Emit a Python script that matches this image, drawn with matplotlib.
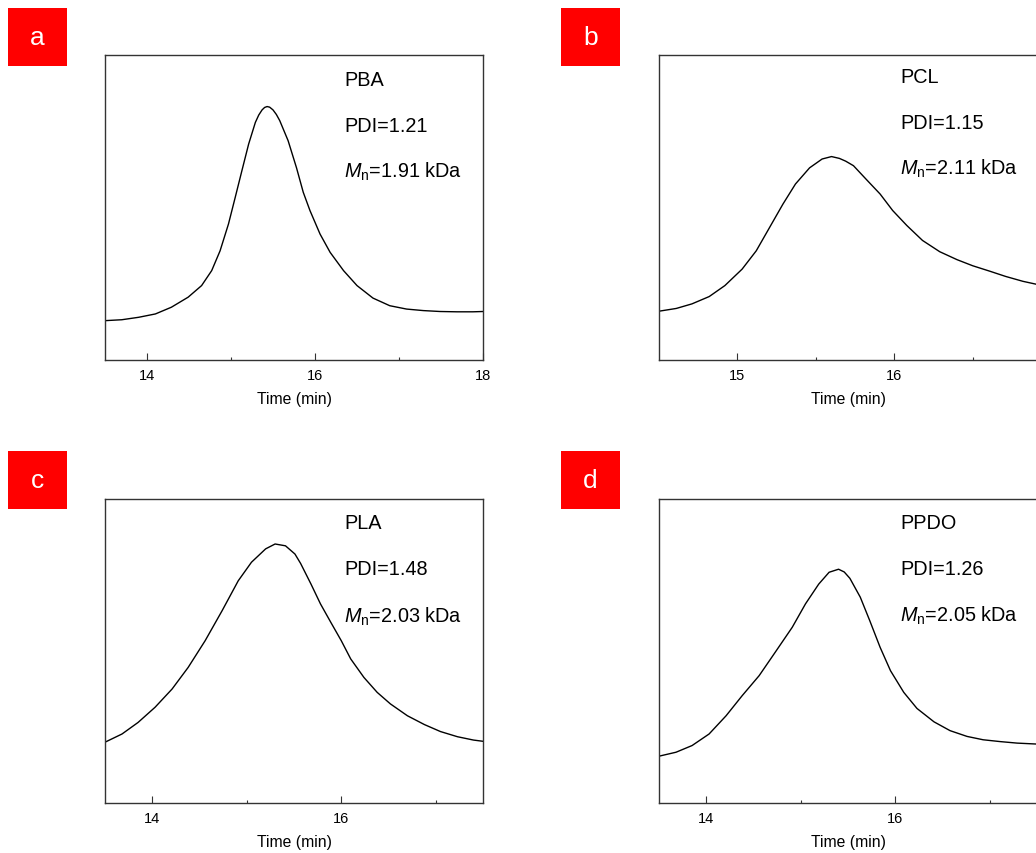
import matplotlib
matplotlib.use("Agg")
import matplotlib.pyplot as plt
from matplotlib.patches import Rectangle

plt.rcParams['font.family'] = ['Liberation Sans', 'DejaVu Sans']
plt.rcParams['mathtext.fontset'] = 'custom'
plt.rcParams['mathtext.rm'] = 'Liberation Sans'
plt.rcParams['mathtext.it'] = 'Liberation Sans:italic'

# ---- data (time in min, normalized detector signal) ----
pba_t = [13.5, 13.70, 13.90, 14.10, 14.29, 14.49, 14.65, 14.77, 14.87, 14.97, 15.05, 15.13, 15.21,
         15.29, 15.33, 15.37, 15.40, 15.43, 15.46, 15.50, 15.54, 15.58, 15.68, 15.78, 15.86, 15.94,
         16.06, 16.18, 16.34, 16.50, 16.69, 16.89, 17.09, 17.29, 17.49, 17.69, 17.88, 18.0]
pba_y = [0.129, 0.132, 0.140, 0.151, 0.173, 0.206, 0.244, 0.293, 0.358, 0.446, 0.533, 0.621, 0.708,
         0.779, 0.803, 0.820, 0.828, 0.831, 0.829, 0.820, 0.805, 0.785, 0.719, 0.630, 0.550, 0.490,
         0.413, 0.353, 0.293, 0.244, 0.203, 0.178, 0.167, 0.162, 0.159, 0.158, 0.158, 0.159]

pcl_t = [14.5, 14.61, 14.71, 14.82, 14.92, 15.03, 15.12, 15.20, 15.29, 15.37, 15.46, 15.54, 15.60,
         15.65, 15.69, 15.74, 15.82, 15.91, 15.99, 16.08, 16.18, 16.29, 16.40, 16.50, 16.61, 16.71,
         16.82, 16.90, 17.0]
pcl_y = [0.160, 0.169, 0.184, 0.208, 0.244, 0.298, 0.358, 0.430, 0.511, 0.577, 0.630, 0.659, 0.667,
         0.661, 0.652, 0.637, 0.593, 0.544, 0.490, 0.441, 0.392, 0.355, 0.329, 0.309, 0.291, 0.274,
         0.258, 0.249, 0.238]

pla_t = [13.5, 13.68, 13.85, 14.03, 14.21, 14.38, 14.56, 14.74, 14.91, 15.05, 15.20, 15.30, 15.41,
         15.51, 15.57, 15.68, 15.78, 15.89, 16.0, 16.10, 16.24, 16.38, 16.52, 16.70, 16.88, 17.05,
         17.23, 17.40, 17.5]
pla_y = [0.200, 0.227, 0.265, 0.315, 0.375, 0.446, 0.534, 0.633, 0.731, 0.792, 0.836, 0.852, 0.846,
         0.819, 0.788, 0.720, 0.655, 0.594, 0.534, 0.474, 0.413, 0.364, 0.326, 0.287, 0.258, 0.235,
         0.218, 0.207, 0.203]

ppdo_t = [13.5, 13.68, 13.85, 14.03, 14.21, 14.38, 14.56, 14.73, 14.91, 15.05, 15.19, 15.30, 15.40,
          15.46, 15.52, 15.63, 15.73, 15.84, 15.95, 16.09, 16.23, 16.41, 16.58, 16.76, 16.93, 17.11,
          17.29, 17.49]
ppdo_y = [0.154, 0.167, 0.189, 0.227, 0.287, 0.353, 0.419, 0.496, 0.578, 0.655, 0.720, 0.759, 0.769,
          0.760, 0.739, 0.677, 0.600, 0.512, 0.435, 0.364, 0.311, 0.267, 0.238, 0.219, 0.208, 0.202,
          0.197, 0.194]

panel_letters = ['a', 'b', 'c', 'd']
polymers = ['PBA', 'PCL', 'PLA', 'PPDO']
pdi_values = ['1.21', '1.15', '1.48', '1.26']
mn_values = ['1.91', '2.11', '2.03', '2.05']
xlims = [(13.5, 18.0), (14.5, 16.91), (13.5, 17.5), (13.5, 17.5)]
major_ticks = [[14, 16, 18], [15, 16], [14, 16], [14, 16]]
minor_ticks = [[15, 17], [15.5, 16.5], [15, 17], [15, 17]]
series = [(pba_t, pba_y), (pcl_t, pcl_y), (pla_t, pla_y), (ppdo_t, ppdo_y)]

W, H = 1036, 854
fig = plt.figure(figsize=(W / 100, H / 100), dpi=100)
fig.patch.set_facecolor('white')

# pixel layout: (left, top, width, height)
ax_px = [(105, 56, 378, 305), (659, 56, 378, 305), (105, 500, 378, 304), (659, 500, 378, 304)]
box_px = [(8, 9), (561, 9), (8, 452), (561, 452)]
text_x = [0.632, 0.638, 0.632, 0.638]
text_y = [(0.921, 0.770, 0.620), (0.928, 0.780, 0.630), (0.924, 0.773, 0.615), (0.924, 0.773, 0.620)]

for i in range(4):
    l, t, w, h = ax_px[i]
    ax = fig.add_axes([l / W, (H - t - h) / H, w / W, h / H])
    xs, ys = series[i]
    ax.plot(xs, ys, color='black', lw=1.0, solid_joinstyle='round')
    ax.set_xlim(*xlims[i])
    ax.set_ylim(0, 1)
    ax.set_yticks([])
    ax.set_xticks(major_ticks[i])
    ax.set_xticks(minor_ticks[i], minor=True)
    ax.tick_params(axis='x', which='major', direction='in', length=5, width=0.8,
                   labelsize=10.5, pad=6, color='#333333')
    ax.tick_params(axis='x', which='minor', direction='in', length=2, width=0.8, color='#333333')
    for sp in ax.spines.values():
        sp.set_color('#333333')
        sp.set_linewidth(1.0)
    ax.set_xlabel('Time (min)', fontsize=11.3, labelpad=6)
    ty = text_y[i]
    fs = 14.3
    ax.text(text_x[i], ty[0], polymers[i], transform=ax.transAxes, fontsize=fs, va='center', ha='left')
    ax.text(text_x[i], ty[1], 'PDI=' + pdi_values[i], transform=ax.transAxes, fontsize=fs,
            va='center', ha='left')
    ax.text(text_x[i], ty[2], r'$\mathit{M}_\mathrm{n}$=' + mn_values[i] + ' kDa',
            transform=ax.transAxes, fontsize=fs, va='center', ha='left')

    bx, by = box_px[i]
    bw, bh = 59, 58
    fig.patches.append(Rectangle((bx / W, (H - by - bh) / H), bw / W, bh / H,
                                 transform=fig.transFigure, facecolor='#ff0000',
                                 edgecolor='none'))
    fig.text((bx + bw / 2) / W, (H - by - bh / 2) / H, panel_letters[i], color='white',
             fontsize=19, ha='center', va='center')

fig.savefig('out.png', dpi=100, facecolor='white')
